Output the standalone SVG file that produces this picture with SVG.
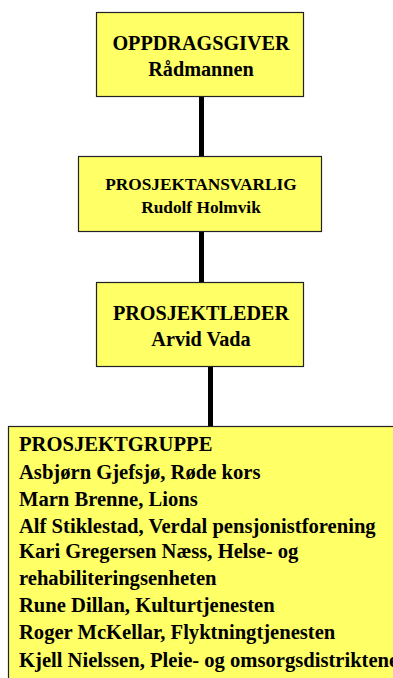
<svg xmlns="http://www.w3.org/2000/svg" width="393" height="678" viewBox="0 0 393 678">
<style>
.box{fill:#ffff66;stroke:#222;stroke-width:1.2}
.t{font-family:"Liberation Serif","Times New Roman",serif;font-weight:bold;fill:#000}
.c{text-anchor:middle}
.conn{stroke:#000;stroke-width:5;fill:none}
</style>
<rect width="393" height="678" fill="#fff"/>
<g id="connectors">
<line class="conn" x1="201.5" y1="96" x2="201.5" y2="156"/>
<line class="conn" x1="201.5" y1="231" x2="201.5" y2="282"/>
<line class="conn" x1="210.5" y1="366" x2="210.5" y2="426"/>
</g>
<g id="oppdragsgiver">
<rect class="box" x="96.5" y="12.5" width="207" height="84"/>
<text class="t c" x="201" y="50" font-size="20.2">OPPDRAGSGIVER</text>
<text class="t c" x="201" y="76" font-size="20.2">Rådmannen</text>
</g>
<g id="prosjektansvarlig">
<rect class="box" x="78.5" y="156.5" width="243" height="75"/>
<text class="t c" x="201" y="190" font-size="17.3">PROSJEKTANSVARLIG</text>
<text class="t c" x="201" y="213" font-size="17.3">Rudolf Holmvik</text>
</g>
<g id="prosjektleder">
<rect class="box" x="96.5" y="282.5" width="207" height="84"/>
<text class="t c" x="201" y="320" font-size="20.2">PROSJEKTLEDER</text>
<text class="t c" x="201" y="346" font-size="20.2">Arvid Vada</text>
</g>
<g id="prosjektgruppe">
<rect class="box" x="8.5" y="426.5" width="400" height="260"/>
<text class="t" font-size="20.6">
<tspan x="19" y="451">PROSJEKTGRUPPE</tspan>
<tspan x="19" y="479">Asbjørn Gjefsjø, Røde kors</tspan>
<tspan x="19" y="506">Marn Brenne, Lions</tspan>
<tspan x="19" y="533">Alf Stiklestad, Verdal pensjonistforening</tspan>
<tspan x="19" y="558">Kari Gregersen Næss, Helse- og</tspan>
<tspan x="19" y="585">rehabiliteringsenheten</tspan>
<tspan x="19" y="612">Rune Dillan, Kulturtjenesten</tspan>
<tspan x="19" y="639">Roger McKellar, Flyktningtjenesten</tspan>
<tspan x="19" y="667">Kjell Nielssen, Pleie- og omsorgsdistriktene</tspan>
</text>
</g>
</svg>
